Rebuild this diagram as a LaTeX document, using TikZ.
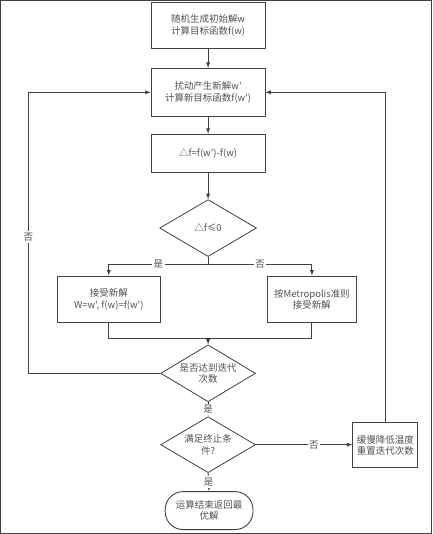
\documentclass[tikz,border=0pt]{standalone}
\usepackage{fontspec}
\usetikzlibrary{shapes.geometric}
\newfontfamily\cjk{Noto Sans CJK SC}
\definecolor{linegray}{HTML}{404040}
\definecolor{textgray}{HTML}{505050}

\begin{document}
\begin{tikzpicture}[x=1pt, y=-1pt, font=\cjk\fontsize{9.5}{11.5}\selectfont,
    box/.style={draw=linegray, line width=0.9pt, text=textgray, align=center, inner sep=1pt},
    choice/.style={draw=linegray, line width=0.8pt, diamond, aspect=1.7, text=textgray, align=center, inner sep=0pt},
    lbl/.style={fill=white, text=textgray, inner sep=1.5pt},
    every path/.style={line width=0.9pt, draw=linegray}, >=latex]
      \useasboundingbox (0,0) rectangle (432,534);
      \node[box, minimum width=114pt, minimum height=46pt] (Init) at (208, 25) {随机生成初始解w\\计算目标函数f(w)};
      \node[box, minimum width=114pt, minimum height=48pt] (Perturb) at (208, 92) {扰动产生新解w'\\计算新目标函数f(w')};
      \node[box, minimum width=114pt, minimum height=38pt] (Delta) at (208, 153) {△f=f(w')-f(w)};
      \node[choice, minimum width=97pt, minimum height=57pt] (Cmp) at (208, 228) {△f≤0};
      \node[box, minimum width=103pt, minimum height=47pt] (Accept) at (108.5, 299.5) {接受新解\\W=w', f(w)=f(w')};
      \node[box, minimum width=90pt, minimum height=47pt] (Metro) at (312, 299.5) {按Metropolis准则\\接受新解};
      \node[choice, minimum width=95pt, minimum height=57pt] (Iter) at (208, 373.5) {是否达到迭代\\次数};
      \node[choice, minimum width=95pt, minimum height=56pt] (Stop) at (208, 445) {满足终止条\\件?};
      \node[box, rounded corners=18pt, minimum width=88pt, minimum height=38pt] (End) at (209, 511) {运算结束返回最\\优解};
      \node[box, minimum width=65pt, minimum height=45pt] (Cool) at (385.5, 445.5) {缓慢降低温度\\重置迭代次数};
      \coordinate (Split) at (208, 264);
      \coordinate (Merge) at (208, 339);
      \coordinate (LeftLow) at (28, 373.5);
      \coordinate (LeftHigh) at (28, 92);
      \draw[->] (Init) to (Perturb);
      \draw[->] (Perturb) to (Delta);
      \draw[->] (Delta) to (Cmp);
      \draw (Cmp.south) to (Split);
      \draw[->] (Split) -| node[lbl, pos=0.25] {是} (Accept.north);
      \draw[->] (Split) -| node[lbl, pos=0.25] {否} (Metro.north);
      \draw (Accept.south) |- (Merge);
      \draw (Metro.south) |- (Merge);
      \draw[->] (Merge) to (Iter.north);
      \draw[->] (Iter.west) -- (LeftLow) -- (LeftHigh) -- (Perturb.west);
      \node[lbl] (NoIter) at (28, 237) {否};
      \draw[->] (Iter.south) to node[lbl, midway] {是} (Stop.north);
      \draw[->] (Stop.south) to node[lbl, midway] {是} (End.north);
      \draw[->] (Stop.east) to node[lbl, pos=0.6] {否} (Cool.west |- Stop.east);
      \draw[->] (Cool.north) |- (Perturb.east);
    \end{tikzpicture}
\end{document}
